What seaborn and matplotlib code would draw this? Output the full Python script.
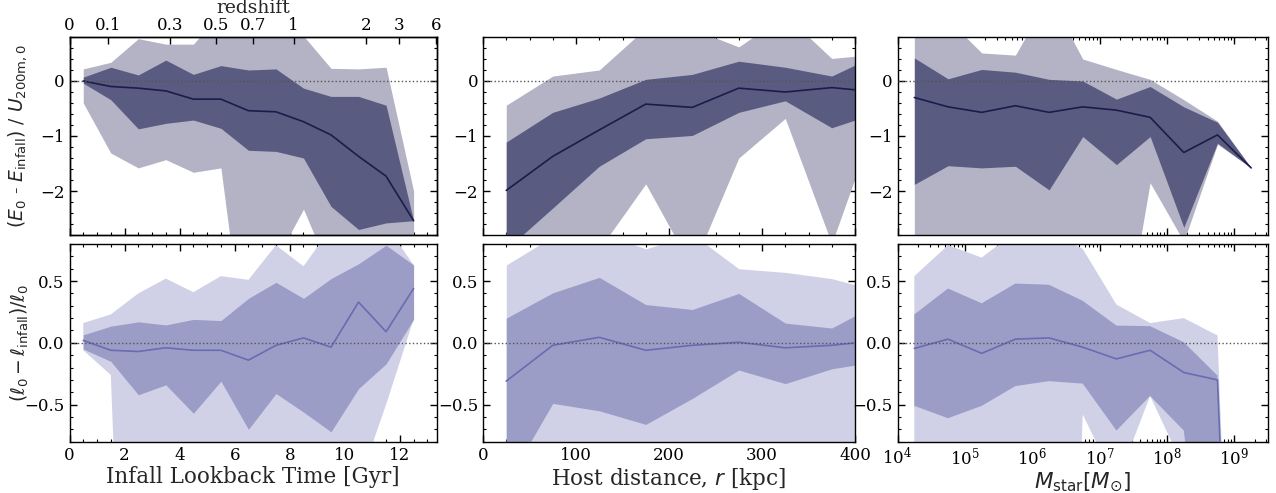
import numpy as np
import pandas as pd
import matplotlib
matplotlib.use("Agg")
import matplotlib.pyplot as plt
import seaborn as sns
from matplotlib.ticker import MultipleLocator, LogLocator, NullFormatter, FixedLocator

# ---------------- data ----------------
time_bins = [0.5, 1.5, 2.5, 3.5, 4.5, 5.5, 6.5, 7.5, 8.5, 9.5, 10.5, 11.5, 12.5]
r_bins = [25, 75, 125, 175, 225, 275, 325, 375, 425]
mstar_bins = [10**4.25, 10**4.75, 10**5.25, 10**5.75, 10**6.25, 10**6.75,
              10**7.25, 10**7.75, 10**8.25, 10**8.75, 10**9.25]

# energy change vs infall time
E_t_med = [0.0, -0.10, -0.13, -0.18, -0.33, -0.33, -0.54, -0.56, -0.74, -0.98, -1.37, -1.73, -2.54]
E_t_dhi = [0.07, 0.25, 0.11, 0.38, 0.12, 0.28, 0.20, 0.22, -0.13, -0.28, -0.28, -0.44, -2.54]
E_t_dlo = [-0.04, -0.34, -0.87, -0.77, -0.71, -0.86, -1.26, -1.28, -1.40, -2.28, -2.70, -2.58, -2.54]
E_t_lhi = [0.22, 0.34, 0.77, 0.67, 0.67, 1.24, 1.10, 1.00, 0.82, 0.23, 0.22, 0.25, -2.00]
E_t_llo = [-0.40, -1.31, -1.58, -1.43, -1.66, -1.58, -5.43, -3.26, -2.33, -3.51, -3.60, -3.60, -3.20]

# energy change vs host distance
E_r_med = [-1.99, -1.37, -0.89, -0.42, -0.48, -0.13, -0.20, -0.12, -0.20]
E_r_dhi = [-1.11, -0.57, -0.31, 0.03, 0.12, 0.36, 0.25, 0.09, 0.49]
E_r_dlo = [-3.06, -2.31, -1.55, -1.05, -0.99, -0.57, -0.36, -0.85, -0.57]
E_r_lhi = [-0.44, 0.09, 0.20, 0.96, 0.95, 0.62, 1.20, 0.41, 0.49]
E_r_llo = [-4.00, -3.50, -3.06, -1.87, -3.40, -1.40, -0.68, -2.96, -0.58]

# energy change vs stellar mass
E_m_med = [-0.30, -0.47, -0.57, -0.45, -0.57, -0.47, -0.53, -0.66, -1.30, -0.98, -1.58]
E_m_dhi = [0.42, 0.04, 0.21, 0.16, 0.03, 0.00, -0.33, -0.10, -0.47, -0.75, -1.58]
E_m_dlo = [-1.88, -1.54, -1.58, -1.55, -1.98, -1.01, -1.52, -1.01, -2.66, -1.13, -1.58]
E_m_lhi = [1.00, 1.12, 0.51, 0.47, 1.55, 0.40, 0.21, 0.03, -0.34, -0.73, -1.58]
E_m_llo = [-4.0, -4.0, -4.0, -4.0, -4.0, -4.0, -5.4, -1.85, -2.92, -1.15, -1.58]

# angular momentum change vs infall time
L_t_med = [0.02, -0.06, -0.07, -0.04, -0.06, -0.06, -0.14, -0.02, 0.04, -0.035, 0.33, 0.09, 0.44]
L_t_dhi = [0.065, 0.135, 0.17, 0.145, 0.19, 0.18, 0.36, 0.49, 0.36, 0.52, 0.64, 0.79, 0.63]
L_t_dlo = [-0.05, -0.15, -0.42, -0.34, -0.57, -0.31, -0.70, -0.41, -0.56, -0.72, -0.37, -0.17, 0.19]
L_t_lhi = [0.16, 0.23, 0.40, 0.52, 0.41, 0.54, 0.51, 0.79, 0.62, 0.93, 0.95, 0.95, 0.63]
L_t_llo = [-0.06, -0.26, -6.0, -2.0, -2.0, -2.0, -2.0, -2.0, -2.0, -2.0, -1.14, -0.50, 0.19]

# angular momentum change vs host distance
L_r_med = [-0.31, -0.02, 0.045, -0.06, -0.02, 0.005, -0.04, -0.02, 0.02]
L_r_dhi = [0.20, 0.405, 0.53, 0.31, 0.27, 0.40, 0.16, 0.12, 0.32]
L_r_dlo = [-1.14, -0.49, -0.55, -0.66, -0.45, -0.22, -0.33, -0.21, -0.15]
L_r_lhi = [0.63, 0.86, 0.90, 0.76, 0.88, 0.60, 0.57, 0.52, 0.42]
L_r_llo = [-1.5, -1.5, -1.5, -1.5, -1.5, -1.5, -1.5, -1.5, -1.5]

# angular momentum change vs stellar mass
L_m_med = [-0.045, 0.03, -0.085, 0.03, 0.04, -0.035, -0.13, -0.06, -0.24, -0.30, -7.0]
L_m_dhi = [0.23, 0.44, 0.32, 0.48, 0.47, 0.34, 0.14, 0.135, 0.005, -0.265, -7.0]
L_m_dlo = [-0.51, -0.61, -0.51, -0.35, -0.31, -0.33, -0.71, -0.43, -0.71, -3.0, -7.0]
L_m_lhi = [0.54, 0.79, 0.69, 0.90, 0.90, 0.76, 0.31, 0.16, 0.20, 0.06, -7.0]
L_m_llo = [-1.5, -1.5, -1.5, -1.5, -8.0, -0.58, -1.14, -0.43, -1.01, -1.5, -7.0]

# redshift axis
z_labels = ['0', '0.1', '0.3', '0.5', '0.7', '1', '2', '3', '6']
z_lookback = [0.0, 1.41, 3.65, 5.33, 6.66, 8.14, 10.78, 11.97, 13.33]

# ---------------- style ----------------
sns.set_style("ticks")
plt.rcParams.update({
    'font.family': ['DejaVu Serif'],
    'mathtext.fontset': 'dejavusans',
    'axes.edgecolor': 'black',
    'axes.linewidth': 1.0,
    'xtick.color': 'black', 'ytick.color': 'black',
    'xtick.direction': 'in', 'ytick.direction': 'in',
    'xtick.top': True, 'ytick.right': True,
    'xtick.major.size': 5, 'ytick.major.size': 5,
    'xtick.minor.size': 2.5, 'ytick.minor.size': 2.5,
    'xtick.major.width': 1.0, 'ytick.major.width': 1.0,
    'xtick.minor.width': 0.8, 'ytick.minor.width': 0.8,
    'xtick.labelsize': 12, 'ytick.labelsize': 12,
})

top_cols = dict(light='#b3b3c5', dark='#5a5b80', line='#1c1c4c')
bot_cols = dict(light='#d0d1e6', dark='#9b9dc7', line='#6a6cb0')

W, H = 1276, 493
fig = plt.figure(figsize=(W / 100, H / 100), dpi=100)
colx = [(69.5, 437), (483, 855), (897.5, 1268)]
rowy = [(37, 235), (244, 441.7)]


def make_ax(c, r):
    x0, x1 = colx[c]
    y0, y1 = rowy[r]
    return fig.add_axes([x0 / W, 1 - y1 / H, (x1 - x0) / W, (y1 - y0) / H])


def panel(ax, x, med, dlo, dhi, llo, lhi, cols):
    ax.fill_between(x, llo, lhi, color=cols['light'], lw=0, zorder=1)
    ax.fill_between(x, dlo, dhi, color=cols['dark'], lw=0, zorder=2)
    sns.lineplot(x=x, y=med, ax=ax, color=cols['line'], lw=1.2, zorder=3)
    ax.axhline(0, color='#555555', ls=':', lw=1.0, zorder=4)


axes = [[make_ax(c, r) for c in range(3)] for r in range(2)]

top_data = [
    (time_bins, E_t_med, E_t_dlo, E_t_dhi, E_t_llo, E_t_lhi),
    (r_bins, E_r_med, E_r_dlo, E_r_dhi, E_r_llo, E_r_lhi),
    (mstar_bins, E_m_med, E_m_dlo, E_m_dhi, E_m_llo, E_m_lhi),
]
bot_data = [
    (time_bins, L_t_med, L_t_dlo, L_t_dhi, L_t_llo, L_t_lhi),
    (r_bins, L_r_med, L_r_dlo, L_r_dhi, L_r_llo, L_r_lhi),
    (mstar_bins, L_m_med, L_m_dlo, L_m_dhi, L_m_llo, L_m_lhi),
]

for c in range(3):
    for r, (data, cols) in enumerate([(top_data, top_cols), (bot_data, bot_cols)]):
        ax = axes[r][c]
        if c == 2:
            ax.set_xscale('log')
        panel(ax, *data[c], cols)
        if c == 0:
            ax.set_xlim(0, 13.35)
            ax.xaxis.set_major_locator(MultipleLocator(2))
            ax.xaxis.set_minor_locator(MultipleLocator(0.5))
        elif c == 1:
            ax.set_xlim(0, 400)
            ax.xaxis.set_major_locator(MultipleLocator(100))
            ax.xaxis.set_minor_locator(MultipleLocator(25))
        else:
            ax.set_xlim(1e4, 10**9.5)
            ax.xaxis.set_major_locator(LogLocator(base=10, numticks=12))
            ax.xaxis.set_minor_locator(LogLocator(base=10, subs=np.arange(2, 10), numticks=12))
            ax.xaxis.set_minor_formatter(NullFormatter())
        if r == 0:
            ax.set_ylim(-2.8, 0.8)
            ax.yaxis.set_major_locator(MultipleLocator(1))
            ax.yaxis.set_minor_locator(MultipleLocator(0.2))
            ax.tick_params(axis='x', which='both', labelbottom=False)
        else:
            ax.set_ylim(-0.8, 0.8)
            ax.yaxis.set_major_locator(MultipleLocator(0.5))
            ax.yaxis.set_minor_locator(MultipleLocator(0.1))
        ax.tick_params(which='both', direction='in', top=True, right=True)
        ax.set_xlabel('')
        ax.set_ylabel('')

# redshift axis on top-left panel
axtl = axes[0][0]
axtl.tick_params(axis='x', which='both', top=False)
axz = axtl.twiny()
axz.set_xlim(axtl.get_xlim())
axz.xaxis.set_major_locator(FixedLocator(z_lookback))
axz.set_xticklabels(z_labels)
axz.xaxis.set_minor_locator(FixedLocator([]))
axz.tick_params(axis='x', which='both', direction='in', length=5, labelsize=12, pad=2)
axz.set_xlabel('redshift', fontsize=13.5, labelpad=3)

axes[0][0].set_ylabel(r'$(E_0$ - $E_{\rm infall})$ / $U_{\rm 200m,0}$', fontsize=13.5)
axes[1][0].set_ylabel(r'$(\ell_0 - \ell_{\rm infall})/\ell_0$', fontsize=13.5)
axes[0][0].yaxis.set_label_coords(-0.11, 0.5)
axes[1][0].yaxis.set_label_coords(-0.105, 0.5)
axes[1][0].set_xlabel('Infall Lookback Time [Gyr]', fontsize=15.5, labelpad=2)
axes[1][1].set_xlabel(r'Host distance, $r$ [kpc]', fontsize=15.5, labelpad=2)
axes[1][2].set_xlabel(r'$M_{\rm star}[M_{\odot}]$', fontsize=15.5, labelpad=2)

fig.savefig('out.png', dpi=100)
